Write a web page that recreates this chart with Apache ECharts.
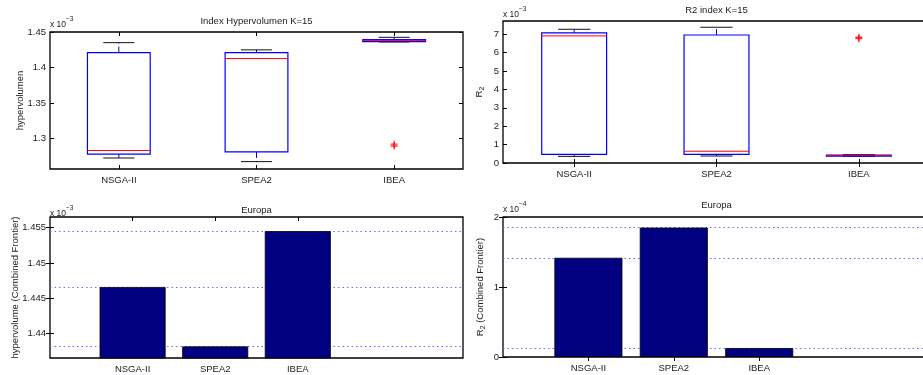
<!DOCTYPE html>
<html>
<head>
<meta charset="utf-8">
<script src="https://cdn.jsdelivr.net/npm/echarts@6/dist/echarts.min.js"></script>
<style>html,body{margin:0;padding:0;background:#fff;overflow:hidden;width:923px;height:375px;}#c{width:931px;height:375px;}</style>
</head>
<body>
<div id="c"></div>
<script>
// ---------- data (values in units of the axis multiplier) ----------
const categories = ['NSGA-II', 'SPEA2', 'IBEA'];

// box plots: [low whisker, Q1, median, Q3, high whisker]  (x 10^-3)
const hvBoxes = [
  [1.2725, 1.2780, 1.2830, 1.4210, 1.4350],
  [1.2674, 1.2810, 1.4126, 1.4210, 1.4248],
  [1.4360, 1.4364, 1.4382, 1.4392, 1.4425]
];
const hvOutliers = [[2, 1.2920], [2, 1.2895]];
const hvTicks = [1.3, 1.35, 1.4, 1.45];

const r2Boxes = [
  [0.36, 0.47, 6.91, 7.07, 7.27],
  [0.38, 0.47, 0.64, 6.96, 7.38],
  [0.36, 0.38, 0.40, 0.43, 0.45]
];
const r2Outliers = [[2, 6.84], [2, 6.76]];
const r2Ticks = [0, 1, 2, 3, 4, 5, 6, 7];

// combined frontier bars
const hvFrontier = [1.4466, 1.4382, 1.4545];   // x 10^-3
const hvFrontierTicks = [1.44, 1.445, 1.45, 1.455];
const r2Frontier = [1.417, 1.849, 0.128];      // x 10^-4
const r2FrontierTicks = [0, 1, 2];
const barPositions = [1, 2, 3];

// ---------- helpers ----------
const FONT = 'Liberation Sans, Arial, Helvetica, sans-serif';
const TXT = '#222';
const FS = 9.5;

function boxRender(params, api) {
  const idx = api.value(0);
  const low = api.value(1), q1 = api.value(2), med = api.value(3), q3 = api.value(4), high = api.value(5);
  const band = api.size([1, 0])[0];
  const half = band * 0.228;
  const cap = band * 0.113;
  const cx = api.coord([idx, med])[0];
  const y = v => api.coord([idx, v])[1];
  const blue = '#0000ff';
  return {
    type: 'group',
    children: [
      { type: 'line', shape: { x1: cx, y1: y(q3), x2: cx, y2: y(high) }, style: { stroke: blue, lineWidth: 1, lineDash: [6, 3] } },
      { type: 'line', shape: { x1: cx, y1: y(q1), x2: cx, y2: y(low) }, style: { stroke: blue, lineWidth: 1, lineDash: [6, 3] } },
      { type: 'line', shape: { x1: cx - cap, y1: y(high), x2: cx + cap, y2: y(high) }, style: { stroke: '#111', lineWidth: 1 } },
      { type: 'line', shape: { x1: cx - cap, y1: y(low), x2: cx + cap, y2: y(low) }, style: { stroke: '#111', lineWidth: 1 } },
      { type: 'rect', shape: { x: cx - half, y: y(q3), width: 2 * half, height: Math.max(1, y(q1) - y(q3)) }, style: { fill: 'none', stroke: blue, lineWidth: 1.2 } },
      { type: 'line', shape: { x1: cx - half, y1: y(med), x2: cx + half, y2: y(med) }, style: { stroke: '#ff0000', lineWidth: 1 } }
    ]
  };
}

const crossPath = 'path://M-0.8,-4H0.8V-0.8H4V0.8H0.8V4H-0.8V0.8H-4V-0.8H-0.8Z';

const grids = [
  { left: 50, top: 32, width: 413, height: 137 },
  { left: 503, top: 21, width: 427, height: 142 },
  { left: 50, top: 217, width: 413, height: 141 },
  { left: 503, top: 217, width: 427, height: 140 }
].map(g => Object.assign({ show: true, borderColor: '#000', borderWidth: 1.3, backgroundColor: '#fff', containLabel: false }, g));

const tick = { show: true, inside: true, length: 4, lineStyle: { color: '#000', width: 1 } };
const fmt = v => String(+(+v).toFixed(4));

function catX(gi, labels) {
  return [
    { type: 'category', gridIndex: gi, data: categories, position: 'bottom', boundaryGap: true,
      axisLine: { show: false }, axisTick: Object.assign({ alignWithLabel: true }, tick),
      axisLabel: { show: labels, color: TXT, fontSize: FS, fontFamily: FONT, margin: 6 } },
    { type: 'category', gridIndex: gi, data: categories, position: 'top', boundaryGap: true,
      axisLine: { show: false }, axisTick: Object.assign({ alignWithLabel: true }, tick), axisLabel: { show: false } }
  ];
}
function valX(gi) {
  return [
    { type: 'value', gridIndex: gi, min: 0, max: 5, position: 'bottom', splitLine: { show: false },
      axisLine: { show: false }, axisTick: Object.assign({ customValues: barPositions }, tick),
      axisLabel: { customValues: barPositions, formatter: v => categories[Math.round(v) - 1], color: TXT, fontSize: FS, fontFamily: FONT, margin: 6 } },
    { type: 'value', gridIndex: gi, min: 0, max: 5, position: 'top', splitLine: { show: false },
      axisLine: { show: false }, axisTick: Object.assign({ customValues: barPositions }, tick), axisLabel: { show: false } }
  ];
}
function valY(gi, min, max, ticks, name, gap) {
  return [
    { type: 'value', gridIndex: gi, min, max, position: 'left', splitLine: { show: false },
      axisLine: { show: false }, axisTick: Object.assign({ customValues: ticks }, tick),
      axisLabel: { customValues: ticks, formatter: fmt, color: TXT, fontSize: FS, fontFamily: FONT, margin: 4 },
      name, nameLocation: 'middle', nameRotate: 90, nameGap: gap, nameMoveOverlap: false,
      nameTextStyle: { color: TXT, fontSize: FS, fontFamily: FONT,
        rich: { r: { fontSize: FS, fontFamily: FONT, color: TXT }, s: { fontSize: 7, fontFamily: FONT, color: TXT, padding: [6, 0, 0, 0] } } } },
    { type: 'value', gridIndex: gi, min, max, position: 'right', splitLine: { show: false },
      axisLine: { show: false }, axisTick: Object.assign({ customValues: ticks }, tick), axisLabel: { show: false } }
  ];
}

const xAxes = [].concat(catX(0, true), catX(1, true), valX(2), valX(3));
const yAxes = [].concat(
  valY(0, 1.257, 1.45, hvTicks, 'hypervolumen', 25),
  valY(1, 0, 7.72, r2Ticks, '{r|R}{s|2}', 17),
  valY(2, 1.43656, 1.4565, hvFrontierTicks, 'hypervolume (Combined Frontier)', 29.5),
  valY(3, 0, 2, r2FrontierTicks, '{r|R}{s|2}{r| (Combined Frontier)}', 16)
);

function boxSeries(gi, boxes) {
  return { type: 'custom', xAxisIndex: gi * 2, yAxisIndex: gi * 2, renderItem: boxRender,
    encode: { x: 0, y: [1, 2, 3, 4, 5] }, clip: false,
    data: boxes.map((b, i) => [i].concat(b)) };
}
function outlierSeries(gi, pts) {
  return { type: 'scatter', xAxisIndex: gi * 2, yAxisIndex: gi * 2, symbol: crossPath, symbolSize: [7, 7],
    itemStyle: { color: '#ff0000' }, data: pts, z: 4 };
}
function barSeries(gi, vals, width) {
  return { type: 'bar', xAxisIndex: gi * 2, yAxisIndex: gi * 2, barWidth: width, clip: true, z: 3,
    itemStyle: { color: '#000080', borderColor: '#000', borderWidth: 0.8 },
    data: vals.map((v, i) => [barPositions[i], v]),
    markLine: { silent: true, symbol: 'none', z: 1, animation: false, precision: 6, label: { show: false },
      lineStyle: { type: [1.5, 3], color: '#6a6aff', width: 1 },
      data: vals.map(v => ({ yAxis: v })) } };
}

function titleAt(text, x, y) {
  return { text, left: x, top: y, textAlign: 'center', padding: 0,
    textStyle: { fontSize: FS, fontWeight: 'normal', color: TXT, fontFamily: FONT } };
}
function expo(x, y, e) {
  return [
    { type: 'text', left: x, top: y, style: { text: 'x 10', fontSize: 8.5, fontFamily: FONT, fill: TXT } },
    { type: 'text', left: x + 16, top: y - 4, style: { text: e, fontSize: 6.5, fontFamily: FONT, fill: TXT } }
  ];
}

const option = {
  animation: false,
  backgroundColor: '#fff',
  title: [
    titleAt('Index Hypervolumen K=15', 256.5, 16),
    titleAt('R2 index K=15', 716.5, 5),
    titleAt('Europa', 256.5, 205),
    titleAt('Europa', 716.5, 200)
  ],
  graphic: [].concat(expo(50, 20, '\u22123'), expo(503, 10, '\u22123'), expo(50, 209, '\u22123'), expo(503, 205, '\u22124')),
  grid: grids,
  xAxis: xAxes,
  yAxis: yAxes,
  series: [
    boxSeries(0, hvBoxes), outlierSeries(0, hvOutliers),
    boxSeries(1, r2Boxes), outlierSeries(1, r2Outliers),
    barSeries(2, hvFrontier, 66),
    barSeries(3, r2Frontier, 68)
  ]
};

const chart = echarts.init(document.getElementById('c'), null, { renderer: 'canvas' });
chart.setOption(option);
</script>
</body>
</html>
